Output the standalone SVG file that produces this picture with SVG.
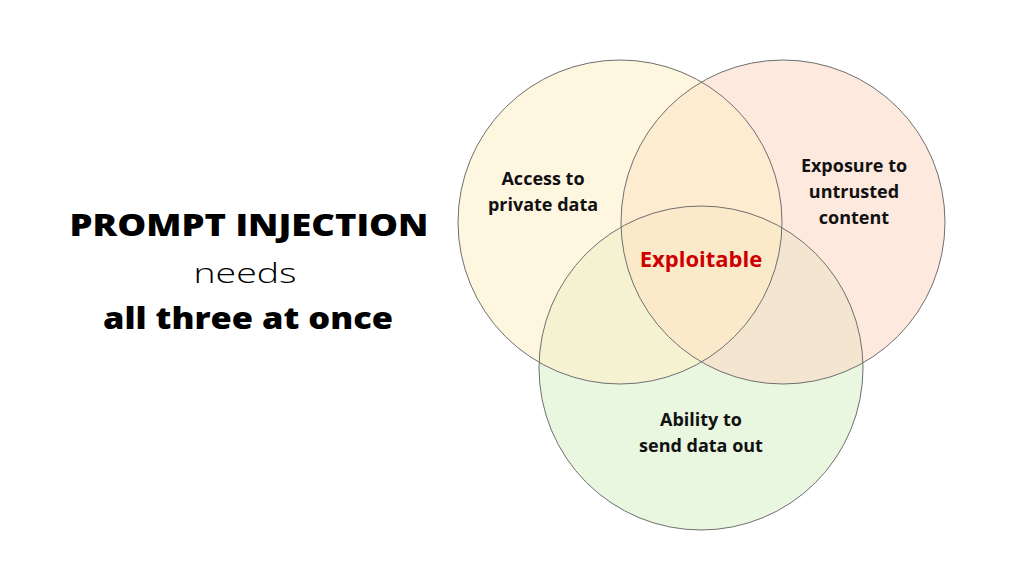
<svg xmlns="http://www.w3.org/2000/svg" width="1024" height="576" viewBox="0 0 1024 576">
<style>
.f{stroke:none;fill-opacity:0.55}
.o{fill:none;stroke:#6f6f6f;stroke-width:1}
.lbl{font-family:"Open Sans","Noto Sans","DejaVu Sans",sans-serif;font-weight:700;font-size:18px;fill:#111;text-anchor:middle}
.ttl{font-family:"Open Sans","Noto Sans",sans-serif;fill:#000;text-anchor:middle}
</style>
<rect width="1024" height="576" fill="#ffffff"/>
<g id="title">
<text class="ttl" x="249" y="236" font-size="30" font-weight="800" textLength="359" lengthAdjust="spacingAndGlyphs">PROMPT INJECTION</text>
<text class="ttl" x="245" y="283" font-size="28" font-weight="300" textLength="103" lengthAdjust="spacingAndGlyphs">needs</text>
<text class="ttl" x="248" y="329" font-size="30" font-weight="800" textLength="290" lengthAdjust="spacingAndGlyphs">all three at once</text>
</g>
<g id="circle-ability">
<circle class="f" cx="701" cy="368" r="162" fill="#e9f7e1" style="fill-opacity:1"/>
</g>
<g id="circle-exposure">
<circle class="f" cx="783" cy="222" r="162" fill="#fbd7c1"/>
</g>
<g id="circle-access">
<circle class="f" cx="620" cy="222" r="162" fill="#ffefc7"/>
</g>
<g id="outlines">
<circle class="o" cx="620" cy="222" r="162"/>
<circle class="o" cx="783" cy="222" r="162"/>
<circle class="o" cx="701" cy="368" r="162"/>
</g>
<g id="label-access">
<text class="lbl" x="543" y="185">Access to</text>
<text class="lbl" x="543" y="211">private data</text>
</g>
<g id="label-exposure">
<text class="lbl" x="854" y="172">Exposure to</text>
<text class="lbl" x="854" y="198">untrusted</text>
<text class="lbl" x="854" y="224">content</text>
</g>
<g id="label-ability">
<text class="lbl" x="701" y="426">Ability to</text>
<text class="lbl" x="701" y="452">send data out</text>
</g>
<g id="center">
<text class="lbl" x="701" y="267" style="fill:#cc0000;font-size:22px">Exploitable</text>
</g>
<g id="connectors"></g>
</svg>
